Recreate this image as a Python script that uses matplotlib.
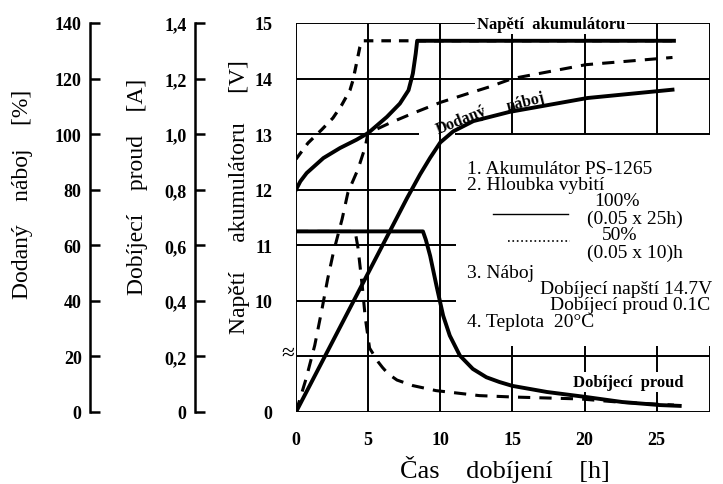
import matplotlib
matplotlib.use("Agg")
import matplotlib.pyplot as plt
from matplotlib.lines import Line2D

plt.rcParams['font.family'] = ['Liberation Serif', 'DejaVu Serif']

W, H = 723, 485

# --- data ---
hour_ticks = [0, 5, 10, 15, 20, 25]
volt_ticks = [8, 10, 11, 12, 13, 14, 15]
volt_labels = ['0', '10', '11', '12', '13', '14', '15']
pct_ticks = [0, 20, 40, 60, 80, 100, 120, 140]
amp_ticks = [0, 0.2, 0.4, 0.6, 0.8, 1.0, 1.2, 1.4]
amp_labels = ['0', '0,2', '0,4', '0,6', '0,8', '1,0', '1,2', '1,4']

# battery voltage [V], 100 % discharge (solid) and 50 % (dashed)
t_v100 = [0, 0.3, 0.74, 1.9, 3.05, 4.2, 5.0, 6.3, 7.2, 7.8, 8.1, 8.3, 8.4, 26.2]
v_v100 = [12.0, 12.15, 12.3, 12.57, 12.75, 12.9, 13.02, 13.31, 13.55, 13.79, 14.09, 14.45, 14.68, 14.68]
t_v50 = [0, 0.83, 1.78, 2.56, 3.16, 3.74, 3.95, 4.2, 4.43, 4.6, 26.2]
v_v50 = [12.55, 12.84, 13.08, 13.29, 13.52, 13.79, 13.97, 14.28, 14.57, 14.68, 14.68]

# delivered charge [%]
t_q100 = [0, 7.7, 8.6, 9.3, 10.0, 10.9, 12.3, 14.8, 20.2, 26.1]
q_q100 = [0, 77, 85.5, 91.5, 97, 101, 104.7, 108, 113, 116]
t_q50 = [0, 0.7, 1.3, 1.8, 2.2, 2.6, 3.2, 3.6, 4.3, 4.8, 5.0, 5.6, 6.5, 8.1, 10.0, 11.8, 13.4, 15.0, 20.1, 26.1]
q_q50 = [0, 12, 24, 37, 48, 57.6, 69.5, 79, 87.4, 95.4, 100.7, 101.8, 104, 107.5, 111.4, 114.4, 117, 120, 125, 127.6]

# charging current [A]
t_i100 = [0, 8.8, 9.0, 9.3, 9.74, 10.2, 10.66, 11.36, 12.26, 13.2, 14.1, 15.0, 17.4, 20.1, 22.6, 25.2, 26.6]
i_i100 = [0.65, 0.65, 0.62, 0.562, 0.454, 0.347, 0.275, 0.203, 0.155, 0.125, 0.108, 0.094, 0.072, 0.054, 0.036, 0.025, 0.022]
t_i50 = [0, 4.1, 4.3, 4.6, 4.8, 5.1, 5.7, 6.0, 6.4, 7.0, 8.1, 9.7, 12.7, 15, 19.7, 22.5, 26.2]
i_i50 = [0.65, 0.65, 0.59, 0.45, 0.34, 0.23, 0.18, 0.16, 0.137, 0.115, 0.095, 0.077, 0.059, 0.054, 0.047, 0.035, 0.025]

x_end = 28.7


def fx(px):
    return px / W


def fy(py):
    return 1 - py / H


fig = plt.figure(figsize=(W / 100, H / 100), dpi=100)
fig.patch.set_facecolor('white')

rect = [fx(296), fy(413), 414 / W, 389 / H]
ax = fig.add_axes(rect)
ax.set_xlim(0, x_end)
ax.set_ylim(0, 1.4)
for s in ax.spines.values():
    s.set_visible(False)
ax.set_yticks([])
ax.set_xticks(hour_ticks)
ax.set_xticklabels([str(h) for h in hour_ticks], fontsize=13, fontweight='bold')
ax.tick_params(axis='x', length=0, pad=14)
ax.patch.set_alpha(0)

axv = ax.twinx()
axv.set_ylim(8, 15)
for s in axv.spines.values():
    s.set_visible(False)
axv.yaxis.tick_left()
axv.set_yticks(volt_ticks)
axv.set_yticklabels(volt_labels, fontsize=13, fontweight='bold')
axv.tick_params(axis='y', length=0, pad=17)

axp = ax.twinx()
axp.set_ylim(0, 140)
axp.axis('off')

lw_g = 1.4
kw = dict(color='black', lw=lw_g)
# frame and grid, current part
ax.vlines([0, 5, 10], 0, 1.4, **kw)
ax.vlines([15, 20, 25, x_end], 0, 0.236, **kw)
ax.hlines([0, 0.2], 0, x_end, **kw)
# frame and grid, voltage part
axv.vlines([15, 20, 25, x_end], 13, 15, **kw)
axv.hlines([15, 14], 0, x_end, **kw)
axv.hlines(13, 0, 8.5, **kw)
axv.hlines(13, 11, x_end, **kw)
axv.hlines([10, 11, 12], 0, 11.1, **kw)

# curves
axv.plot(t_v50, v_v50, color='black', lw=2.3, ls=(0, (3, 2.5)))
axv.plot(t_v100, v_v100, color='black', lw=2.8)
axp.plot(t_q50, q_q50, color='black', lw=2.2, ls=(0, (4, 3)))
axp.plot(t_q100, q_q100, color='black', lw=2.8)
ax.plot(t_i50, i_i50, color='black', lw=2.2, ls=(0, (4, 3)))
ax.plot(t_i100, i_i100, color='black', lw=2.8)

# left axes: delivered charge and current
for xpix, lim, ticks, labels in [(90, 140, pct_ticks, [str(p) for p in pct_ticks]),
                                  (195, 1.4, amp_ticks, amp_labels)]:
    a = fig.add_axes([fx(xpix), fy(413), 0.0001, 389 / H])
    a.set_ylim(0, lim)
    a.set_xticks([])
    for k, s in a.spines.items():
        s.set_visible(k == 'left')
    a.spines['left'].set_linewidth(1.8)
    a.set_yticks(ticks)
    a.set_yticklabels(labels, fontsize=13, fontweight='bold')
    a.tick_params(axis='y', direction='in', length=7, width=1.8, pad=6)
    a.patch.set_alpha(0)

# axis titles
fig.text(fx(23), fy(194), 'Dodaný    náboj    [%]', rotation=90, ha='center', va='center', fontsize=17)
fig.text(fx(137), fy(187), 'Dobíjecí    proud    [A]', rotation=90, ha='center', va='center', fontsize=17)
fig.text(fx(240), fy(197), 'Napětí     akumulátoru     [V]', rotation=90, ha='center', va='center', fontsize=17)
fig.text(fx(505), fy(470), 'Čas    dobíjení    [h]', ha='center', va='center', fontsize=19)
fig.text(fx(288), fy(354), '≈', ha='center', va='center', fontsize=17)

# labels inside plot
wb = dict(facecolor='white', edgecolor='none', pad=1.5)
fig.text(fx(551), fy(25), 'Napětí  akumulátoru', ha='center', va='center',
         fontsize=12, fontweight='bold', bbox=wb)
fig.text(fx(628), fy(383), 'Dobíjecí  proud', ha='center', va='center',
         fontsize=12, fontweight='bold', bbox=wb)
fig.text(fx(438), fy(134), 'Dodaný', rotation=22, rotation_mode='anchor',
         ha='left', va='baseline', fontsize=11.5, fontweight='bold')
fig.text(fx(508), fy(111), 'náboj', rotation=14, rotation_mode='anchor',
         ha='left', va='baseline', fontsize=11.5, fontweight='bold')

# notes / legend
fs = 14
fig.text(fx(467), fy(170), '1. Akumulátor PS-1265', ha='left', va='center', fontsize=fs)
fig.text(fx(467), fy(186), '2. Hloubka vybití', ha='left', va='center', fontsize=fs)
fig.text(fx(594), fy(202), '100%', ha='left', va='center', fontsize=fs)
fig.text(fx(587), fy(219), '(0.05 x 25h)', ha='left', va='center', fontsize=fs)
fig.text(fx(602), fy(236), '50%', ha='left', va='center', fontsize=fs)
fig.text(fx(587), fy(253), '(0.05 x 10)h', ha='left', va='center', fontsize=fs)
fig.text(fx(467), fy(273), '3. Náboj', ha='left', va='center', fontsize=fs)
fig.text(fx(712), fy(289), 'Dobíjecí napští 14.7V', ha='right', va='center', fontsize=fs)
fig.text(fx(710), fy(306), 'Dobíjecí proud 0.1C', ha='right', va='center', fontsize=fs)
fig.text(fx(467), fy(323), '4. Teplota  20°C', ha='left', va='center', fontsize=fs)

fig.add_artist(Line2D([fx(493), fx(568)], [fy(215), fy(215)], color='black', lw=1.0))
fig.add_artist(Line2D([fx(508), fx(570)], [fy(242), fy(242)], color='black', lw=1.2, ls=':'))

fig.savefig('out.png', dpi=100, facecolor='white')
